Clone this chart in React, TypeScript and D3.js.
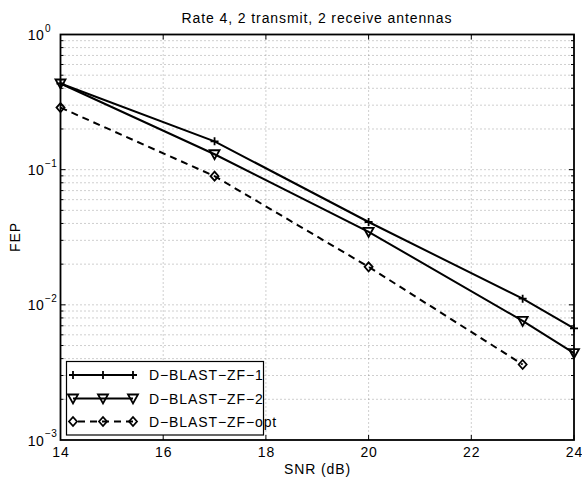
import React, { useEffect, useRef } from "react";
import * as d3 from "d3";

const snrZF1 = [14, 17, 20, 23, 24];
const fepZF1 = [0.434, 0.162, 0.041, 0.0111, 0.0067];
const snrZF2 = [14, 17, 20, 23, 24];
const fepZF2 = [0.434, 0.130, 0.0347, 0.0076, 0.0044];
const snrOpt = [14, 17, 20, 23];
const fepOpt = [0.288, 0.0895, 0.0191, 0.00362];
const seriesNames = ["D\u2212BLAST\u2212ZF\u22121", "D\u2212BLAST\u2212ZF\u22122", "D\u2212BLAST\u2212ZF\u2212opt"];
const xTicks = [14, 16, 18, 20, 22, 24];
const yExponents = [0, -1, -2, -3];
const titleText = "Rate 4, 2 transmit, 2 receive antennas";
const xLabel = "SNR (dB)";
const yLabel = "FEP";

export default function App() {
  const ref = useRef<SVGSVGElement>(null);
  useEffect(() => {
    const svg = d3.select(ref.current);
    svg.selectAll("*").remove();
    const L = 60.5, R = 574, T = 34.5, B = 440;
    const x = d3.scaleLinear().domain([14, 24]).range([L, R]);
    const y = d3.scaleLog().domain([1e-3, 1]).range([B, T]);
    const font = "Liberation Sans, Arial, Helvetica, sans-serif";
    const fs = 14;
    const ls = 0.9;
    svg.append("rect").attr("x", 0).attr("y", 0).attr("width", 582).attr("height", 478).attr("fill", "white");
    svg.append("rect").attr("x", L).attr("y", T).attr("width", R - L).attr("height", B - T).attr("fill", "white");

    const grid = svg.append("g").attr("stroke", "#777").attr("stroke-width", 0.7).attr("stroke-dasharray", "1,3");
    xTicks.slice(1, -1).forEach((t) => {
      grid.append("line").attr("x1", x(t)).attr("x2", x(t)).attr("y1", T).attr("y2", B);
    });
    const minorY: number[] = [];
    for (let e = -3; e < 0; e++) for (let m = 1; m <= 9; m++) {
      const v = m * Math.pow(10, e);
      if (v > 1e-3 && v < 1) minorY.push(v);
    }
    minorY.forEach((v) => {
      grid.append("line").attr("x1", L).attr("x2", R).attr("y1", y(v)).attr("y2", y(v));
    });

    const ax = svg.append("g").attr("stroke", "black").attr("stroke-width", 1);
    xTicks.forEach((t) => {
      ax.append("line").attr("x1", x(t)).attr("x2", x(t)).attr("y1", B).attr("y2", B - 5);
      ax.append("line").attr("x1", x(t)).attr("x2", x(t)).attr("y1", T).attr("y2", T + 5);
    });
    minorY.forEach((v) => {
      const len = Math.abs(Math.log10(v) - Math.round(Math.log10(v))) < 1e-9 ? 5 : 3;
      ax.append("line").attr("x1", L).attr("x2", L + len).attr("y1", y(v)).attr("y2", y(v));
      ax.append("line").attr("x1", R).attr("x2", R - len).attr("y1", y(v)).attr("y2", y(v));
    });

    const lineGen = d3.line<[number, number]>().x((d) => x(d[0])).y((d) => y(d[1]));
    const sets: { xs: number[]; ys: number[]; dash: string | null; marker: string }[] = [
      { xs: snrZF1, ys: fepZF1, dash: null, marker: "plus" },
      { xs: snrZF2, ys: fepZF2, dash: null, marker: "tri" },
      { xs: snrOpt, ys: fepOpt, dash: "7,5", marker: "diamond" },
    ];
    const drawMarker = (g: any, m: string, cx: number, cy: number) => {
      if (m === "plus") {
        g.append("path").attr("d", `M${cx - 4},${cy}H${cx + 4}M${cx},${cy - 4}V${cy + 4}`)
          .attr("stroke", "black").attr("stroke-width", 1.8).attr("fill", "none");
      } else if (m === "tri") {
        g.append("path").attr("d", `M${cx - 5},${cy - 4}L${cx + 5},${cy - 4}L${cx},${cy + 5}Z`)
          .attr("stroke", "black").attr("stroke-width", 1.8).attr("fill", "none");
      } else {
        g.append("path").attr("d", `M${cx},${cy - 4.5}L${cx + 4},${cy}L${cx},${cy + 4.5}L${cx - 4},${cy}Z`)
          .attr("stroke", "black").attr("stroke-width", 1.8).attr("fill", "none");
      }
    };
    const plot = svg.append("g");
    sets.forEach((s) => {
      const pts = s.xs.map((v, i) => [v, s.ys[i]] as [number, number]);
      const p = plot.append("path").attr("d", lineGen(pts)).attr("stroke", "black")
        .attr("stroke-width", 2).attr("fill", "none");
      if (s.dash) p.attr("stroke-dasharray", s.dash);
      pts.forEach((d) => drawMarker(plot, s.marker, x(d[0]), y(d[1])));
    });

    svg.append("rect").attr("x", L).attr("y", T).attr("width", R - L).attr("height", B - T)
      .attr("fill", "none").attr("stroke", "black").attr("stroke-width", 1.8);

    const txt = (xx: number, yy: number, s: string, anchor: string, size = fs, spacing = ls) =>
      svg.append("text").attr("x", xx).attr("y", yy).attr("text-anchor", anchor)
        .attr("font-family", font).attr("font-size", size).attr("letter-spacing", spacing).text(s);

    xTicks.forEach((t) => txt(x(t) + 0.5, 457, String(t), "middle"));
    yExponents.forEach((e) => {
      const yy = y(Math.pow(10, e));
      txt(44, yy + 5.5, "10", "end", fs, 0.3);
      txt(45, yy - 3, String(e).replace("-", "\u2212"), "start", 10, 0.3);
    });
    txt(317, 23, titleText, "middle");
    txt(317.5, 474, xLabel, "middle");
    svg.append("text").attr("transform", "translate(20,237) rotate(-90)").attr("text-anchor", "middle")
      .attr("font-family", font).attr("font-size", fs).attr("letter-spacing", ls).text(yLabel);

    const lg = svg.append("g");
    lg.append("rect").attr("x", 66.5).attr("y", 361.5).attr("width", 197).attr("height", 73.5)
      .attr("fill", "white").attr("stroke", "black").attr("stroke-width", 1.2);
    const rows = [375, 398.5, 421.5];
    sets.forEach((s, i) => {
      const ry = rows[i];
      const l = lg.append("line").attr("x1", 73).attr("x2", 133).attr("y1", ry).attr("y2", ry)
        .attr("stroke", "black").attr("stroke-width", 2);
      if (s.dash) l.attr("stroke-dasharray", s.dash).attr("stroke-dashoffset", -5);
      [73, 103, 133].forEach((mx) => drawMarker(lg, s.marker, mx, ry));
      lg.append("text").attr("x", 149).attr("y", ry + 5).attr("font-family", font)
        .attr("font-size", fs).attr("letter-spacing", ls).text(seriesNames[i]);
    });
  }, []);
  return <svg ref={ref} width={582} height={478} style={{ position: "absolute", left: 0, top: 0 }} />;
}
